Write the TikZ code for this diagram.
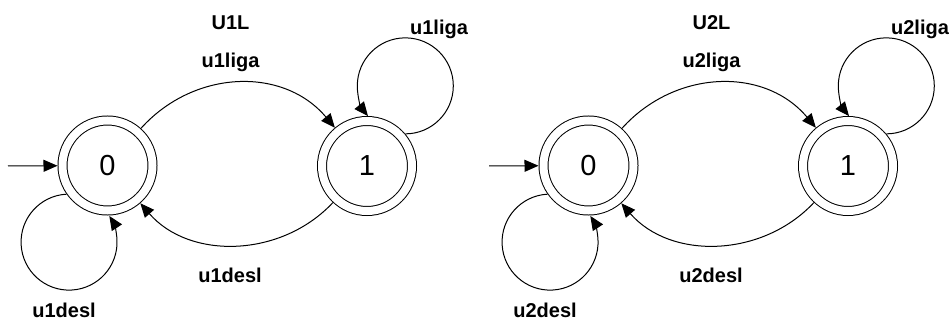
\documentclass[tikz,border=0pt]{standalone}
\usepackage{fontspec}
\setmainfont{Liberation Sans}
\usetikzlibrary{arrows.meta}

\begin{document}
\begin{tikzpicture}[x=1pt, y=1pt, line width=1pt,
    arr/.style={-{Triangle[length=14pt, width=12pt]}},
    stnode/.style={circle, draw, double, double distance=8pt, minimum size=90pt,
                   inner sep=0pt, outer sep=5pt, font=\fontsize{29}{29}\selectfont},
    lbl/.style={font=\fontsize{20}{20}\selectfont\bfseries}]
  \useasboundingbox (0, 0) rectangle (952, -320);

  \node[stnode] (a0) at (107.5, -165.5) {0};
  \node[stnode] (a1) at (367, -166) {1};
  \coordinate (ia) at (8, -166);

  \draw[arr] (ia) -- (a0);
  \draw[arr] (a0) to[out=48, in=130, looseness=1.05] (a1);
  \draw[arr] (a1) to[out=227, in=-49] (a0);
  \draw[arr] (a1.40) arc[start angle=270, end angle=579, radius=48];
  \draw[arr] (a0.215) arc[start angle=93, end angle=393, radius=48];

  \node[lbl] (ua) at (230.5, -23) {U1L};
  \node[lbl] (ligaa) at (230.5, -62) {u1liga};
  \node[lbl] (loopligaa) at (439, -29.5) {u1liga};
  \node[lbl] (desla) at (230, -275) {u1desl};
  \node[lbl] (loopdesla) at (64, -310.5) {u1desl};

  \node[stnode] (b0) at (588.5, -165.5) {0};
  \node[stnode] (b1) at (848, -166) {1};
  \coordinate (ib) at (489, -166);

  \draw[arr] (ib) -- (b0);
  \draw[arr] (b0) to[out=48, in=130, looseness=1.05] (b1);
  \draw[arr] (b1) to[out=227, in=-49] (b0);
  \draw[arr] (b1.40) arc[start angle=270, end angle=579, radius=48];
  \draw[arr] (b0.215) arc[start angle=93, end angle=393, radius=48];

  \node[lbl] (ub) at (711.5, -23) {U2L};
  \node[lbl] (ligab) at (711.5, -62) {u2liga};
  \node[lbl] (loopligab) at (920, -29.5) {u2liga};
  \node[lbl] (deslb) at (711, -275) {u2desl};
  \node[lbl] (loopdeslb) at (545, -310.5) {u2desl};
\end{tikzpicture}
\end{document}
